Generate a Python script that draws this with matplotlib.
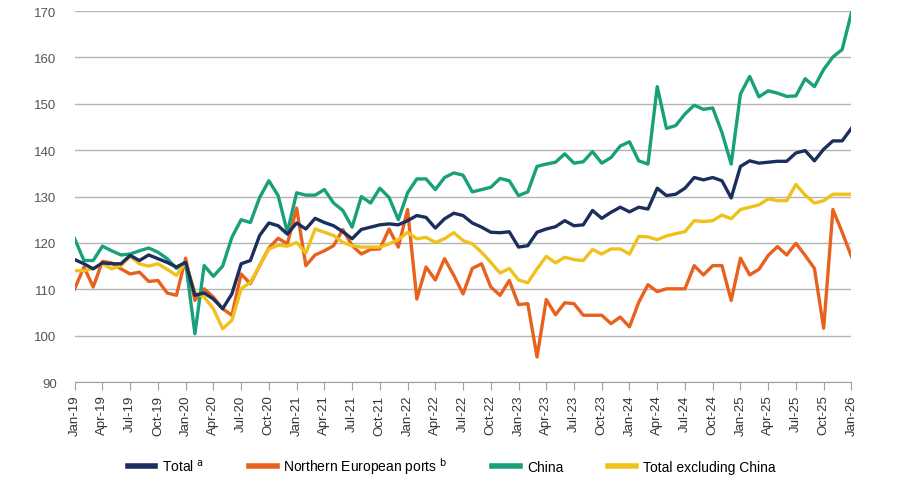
import numpy as np
import matplotlib
matplotlib.use("Agg")
import matplotlib.pyplot as plt

plt.rcParams['font.family'] = ['Liberation Sans', 'DejaVu Sans']

# monthly index values, Jan-19 .. Jan-26
total = [116.4, 115.5, 114.4, 115.7, 115.5, 115.5, 117.3, 116.2, 117.4, 116.6, 115.8, 114.8,
         115.8, 108.7, 109.2, 107.9, 105.8, 109.0, 115.5, 116.2, 121.6, 124.3, 123.7, 121.9,
         124.3, 123.0, 125.3, 124.4, 123.7, 122.4, 120.9, 122.9, 123.4, 123.9, 124.1, 123.9,
         124.8, 125.9, 125.5, 123.2, 125.2, 126.4, 125.9, 124.3, 123.4, 122.3, 122.2, 122.4,
         119.1, 119.4, 122.3, 123.0, 123.5, 124.8, 123.7, 123.9, 127.0, 125.3, 126.6, 127.7,
         126.7, 127.7, 127.3, 131.8, 130.2, 130.5, 131.8, 134.1, 133.6, 134.1, 133.4, 129.7,
         136.5, 137.7, 137.2, 137.4, 137.6, 137.6, 139.4, 139.9, 137.7, 140.2, 142.0, 142.0,
         144.7]
north_eu = [110.1, 114.8, 110.5, 116.0, 115.7, 114.4, 113.3, 113.7, 111.7, 111.9, 109.2, 108.7,
            116.7, 107.6, 110.1, 108.3, 105.8, 104.4, 113.3, 111.2, 115.1, 118.9, 121.0, 119.8,
            127.5, 115.1, 117.4, 118.3, 119.4, 122.9, 119.4, 117.6, 118.6, 118.7, 123.0, 119.1,
            127.2, 107.9, 114.8, 112.0, 116.6, 113.0, 109.0, 114.5, 115.5, 110.5, 108.7, 111.9,
            106.7, 106.9, 95.4, 107.8, 104.5, 107.1, 106.9, 104.4, 104.4, 104.4, 102.6, 104.0,
            101.9, 107.2, 111.0, 109.5, 110.1, 110.1, 110.1, 115.1, 113.1, 115.1, 115.1, 107.6,
            116.7, 113.1, 114.3, 117.3, 119.2, 117.4, 119.9, 117.3, 114.5, 101.6, 127.2, 122.3,
            117.1]
china = [120.9, 116.2, 116.2, 119.3, 118.3, 117.4, 117.6, 118.3, 118.9, 118.0, 116.6, 114.5,
         115.8, 100.4, 115.1, 112.8, 115.0, 121.2, 125.0, 124.4, 129.8, 133.4, 130.2, 122.3,
         130.8, 130.3, 130.3, 131.5, 128.6, 127.0, 123.4, 130.0, 128.6, 131.8, 129.8, 125.0,
         130.8, 133.8, 133.8, 131.5, 134.1, 135.1, 134.6, 131.0, 131.5, 132.0, 133.9, 133.4,
         130.2, 131.0, 136.5, 137.0, 137.4, 139.2, 137.2, 137.5, 139.7, 137.2, 138.4, 140.9,
         141.8, 137.7, 137.0, 153.7, 144.7, 145.3, 147.8, 149.7, 148.8, 149.1, 143.8, 137.0,
         152.1, 155.9, 151.5, 152.8, 152.3, 151.6, 151.7, 155.4, 153.7, 157.4, 160.1, 161.7,
         169.6]
total_ex_china = [114.0, 114.0, 114.5, 115.5, 114.4, 115.1, 117.1, 115.5, 115.0, 115.5, 114.3, 113.0,
                  115.8, 109.4, 108.3, 105.8, 101.5, 103.3, 110.1, 111.5, 115.1, 118.7, 119.5, 119.3,
                  120.1, 117.8, 123.0, 122.3, 121.6, 120.1, 119.4, 119.1, 119.1, 119.1, 119.8, 120.7,
                  122.3, 120.9, 121.2, 120.1, 120.9, 122.2, 120.5, 119.8, 118.0, 115.8, 113.5, 114.5,
                  112.0, 111.4, 114.4, 117.1, 115.7, 116.9, 116.4, 116.2, 118.6, 117.6, 118.7, 118.7,
                  117.6, 121.4, 121.3, 120.7, 121.5, 122.0, 122.4, 124.8, 124.6, 124.8, 126.0, 125.2,
                  127.2, 127.7, 128.2, 129.5, 129.1, 129.1, 132.6, 130.3, 128.6, 129.1, 130.5, 130.5,
                  130.5]

months = ['Jan', 'Apr', 'Jul', 'Oct']
tick_labels = [f"{m}-{y}" for y in range(19, 26) for m in months] + ['Jan-26']

x = np.arange(len(total))

fig = plt.figure(figsize=(9, 5.02), dpi=100)
ax = fig.add_axes([0.083, 0.237, 0.863, 0.739])

ax.plot(x, total, color='#1b2f5e', lw=2.4, label='Total $^{\\mathrm{a}}$', zorder=4)
ax.plot(x, north_eu, color='#e8611d', lw=2.4, label='Northern European ports $^{\\mathrm{b}}$', zorder=3)
ax.plot(x, china, color='#17a079', lw=2.4, label='China', zorder=3)
ax.plot(x, total_ex_china, color='#f1c11b', lw=2.4, label='Total excluding China', zorder=3)

ax.set_xlim(0, len(total) - 1)
ax.set_ylim(90, 170)
ax.set_yticks(range(90, 171, 10))
ax.set_xticks(x[::3])
ax.set_xticklabels(tick_labels, rotation=90)
ax.grid(axis='y', color='#b4b4b4', lw=1)
ax.set_axisbelow(True)

for s in ['left', 'right', 'top']:
    ax.spines[s].set_visible(False)
ax.spines['bottom'].set_color('#a0a0a0')
ax.tick_params(axis='y', length=0, labelsize=9.5, labelcolor='#555555', pad=13)
ax.tick_params(axis='x', length=6, color='#a0a0a0', labelsize=9.5, labelcolor='#333333', pad=3)

ax.legend(loc='center', bbox_to_anchor=(0.485, -0.226), ncol=4, frameon=False,
          fontsize=10, handlelength=2.0, handletextpad=0.5, columnspacing=3.2)
for line in ax.get_legend().get_lines():
    line.set_linewidth(4)

fig.savefig('out.png', dpi=100)
